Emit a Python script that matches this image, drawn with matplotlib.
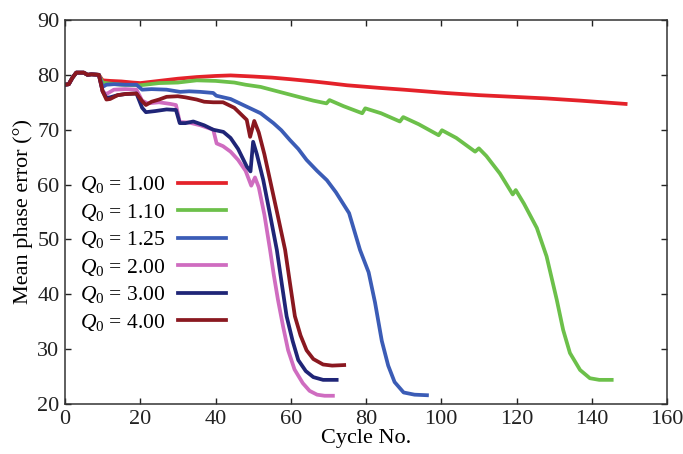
import matplotlib
matplotlib.use('Agg')
import matplotlib.pyplot as plt

plt.rcParams.update({
    'font.family': 'Liberation Serif',
    'mathtext.fontset': 'custom',
    'mathtext.rm': 'Liberation Serif',
    'mathtext.it': 'Liberation Serif:italic',
    'font.size': 16,
})

# shared start of every run (cycles 0-9)
x_start = [0, 1, 2, 3, 5, 6, 7, 9]
y_start = [78.2, 78.3, 79.5, 80.4, 80.4, 80.0, 80.1, 80.0]

q_labels = ['1.00', '1.10', '1.25', '2.00', '3.00', '4.00']
colors = ['#e4222a', '#6cc04a', '#3b5cb6', '#cf6cc0', '#1f2577', '#8a1820']

x_q100 = [10, 12, 15, 18, 20, 25, 30, 35, 40, 44, 50, 55, 60, 66, 70, 75, 84,
          90, 101, 110, 119, 128, 137, 143, 149]
y_q100 = [79.0, 78.9, 78.8, 78.6, 78.5, 78.9, 79.3, 79.6, 79.8, 79.9, 79.7,
          79.5, 79.2, 78.8, 78.5, 78.1, 77.6, 77.3, 76.7, 76.3, 76.0, 75.7,
          75.3, 75.0, 74.7]

x_q110 = [10, 12, 15, 20, 25, 30, 35, 40, 45, 48, 52, 57, 62, 66, 69.5, 70.3,
          74, 79, 79.8, 84, 89, 89.9, 94, 99.3, 100.2, 104, 109, 110, 112,
          115.6, 119, 119.8, 122, 125.4, 128, 130.7, 132.4, 134.2, 136.9,
          139.5, 142, 145.3]
y_q110 = [78.6, 78.4, 78.2, 78.1, 78.5, 78.6, 79.0, 78.9, 78.6, 78.2, 77.8,
          76.9, 76.0, 75.3, 74.8, 75.4, 74.3, 73.0, 73.9, 73.0, 71.5, 72.3,
          71.0, 69.0, 69.9, 68.5, 66.0, 66.6, 65.2, 62.0, 58.2, 59.0, 56.5,
          52.1, 46.9, 39.0, 33.5, 29.3, 26.2, 24.7, 24.4, 24.4]

x_q125 = [10, 11, 13, 16, 19, 20.5, 23, 27, 30.6, 33, 36, 39.4, 40.2, 44,
          48.3, 52, 55.4, 57.5, 59.8, 62, 64.2, 67, 69.6, 72, 75.5, 78.4,
          80.7, 82.4, 84.2, 85.9, 87.6, 90, 92.9, 96.2]
y_q125 = [77.8, 78.2, 78.3, 78.2, 78.2, 77.3, 77.4, 77.3, 76.9, 77.0, 76.9,
          76.7, 76.2, 75.6, 74.2, 73.0, 71.2, 69.9, 68.1, 66.5, 64.5, 62.5,
          60.8, 58.6, 54.8, 48.1, 44.0, 38.5, 31.5, 27.0, 24.0, 22.1, 21.7,
          21.6]

x_q200 = [10, 11, 13, 16, 19, 20.5, 22, 25, 28, 29.5, 30.5, 33, 36, 39.4,
          40.3, 42, 44, 46, 48, 49.5, 50.5, 51.5, 53, 54.5, 55.5, 56.6, 58,
          59.3, 61, 63.2, 65, 67, 69, 71.2]
y_q200 = [77.0, 76.5, 77.3, 77.4, 77.3, 75.3, 74.8, 75.0, 74.7, 74.5, 71.4,
          71.3, 70.8, 70.0, 67.5, 67.0, 66.0, 64.5, 62.5, 59.8, 61.3, 59.5,
          54.5, 48.1, 43.5, 39.0, 34.0, 29.8, 26.3, 23.8, 22.4, 21.7, 21.5,
          21.5]

x_q300 = [10, 11, 12, 14, 16, 19, 20.5, 21.5, 24, 27, 29.5, 30.5, 32, 34.1,
          37, 39.4, 42.1, 44, 46, 48.3, 49.3, 50.0, 51, 52.7, 54.5, 56.3,
          57.6, 58.9, 60.5, 62.0, 64, 66, 68.6, 72.2]
y_q300 = [77.0, 75.8, 75.9, 76.3, 76.5, 76.6, 74.0, 73.2, 73.4, 73.7, 73.6,
          71.2, 71.2, 71.5, 70.8, 70.0, 69.6, 68.5, 66.5, 63.3, 62.4, 67.8,
          65.5, 60.8, 54.5, 48.1, 42.0, 36.0, 31.5, 28.0, 26.0, 24.9, 24.4,
          24.4]

x_q400 = [10, 11, 12, 14, 16, 19, 20.5, 21.5, 23, 25, 27, 30, 32, 35, 37,
          39.4, 42, 45, 48.3, 49.2, 50.3, 51.5, 53, 54.5, 56.5, 58.5, 59.8,
          61.1, 62.6, 64.2, 66, 68.6, 71, 74.2]
y_q400 = [77.0, 75.5, 75.6, 76.3, 76.5, 76.6, 75.2, 74.5, 75.1, 75.5, 76.0,
          76.1, 75.9, 75.5, 75.1, 75.0, 75.0, 74.0, 71.8, 68.7, 71.6, 69.5,
          65.5, 60.8, 54.5, 48.1, 42.0, 36.0, 32.5, 29.8, 28.2, 27.2, 27.0,
          27.1]

xs = [x_q100, x_q110, x_q125, x_q200, x_q300, x_q400]
ys = [y_q100, y_q110, y_q125, y_q200, y_q300, y_q400]

fig = plt.figure(figsize=(6.83, 4.54), dpi=100)
ax = fig.add_axes([65 / 683, 1 - 404 / 454, 602 / 683, 384 / 454])

for x, y, q, c in zip(xs, ys, q_labels, colors):
    ax.plot(x_start + x, y_start + y, color=c, lw=2.7,
            solid_joinstyle='round', label=r'$Q_0$ = ' + q)

ax.set_xlim(0, 160)
ax.set_ylim(20, 90)
ax.set_xticks(range(0, 161, 20))
ax.set_yticks(range(20, 91, 10))
ax.tick_params(direction='in', length=4, width=1, top=True, right=True,
               labelsize=16, colors='#222222', pad=4)
for s in ax.spines.values():
    s.set_linewidth(1.1)
    s.set_color('#333333')

ax.set_xlabel('Cycle No.', fontsize=16, labelpad=0)
ax.set_ylabel('Mean phase error (°)', fontsize=16, labelpad=3)

ax.legend(loc='center left', bbox_to_anchor=(0.025, 0.392), frameon=False,
          markerfirst=False, handlelength=2.2, handletextpad=0.6,
          labelspacing=0.3, borderpad=0, borderaxespad=0, fontsize=15.5)

fig.savefig('out.png', dpi=100)
